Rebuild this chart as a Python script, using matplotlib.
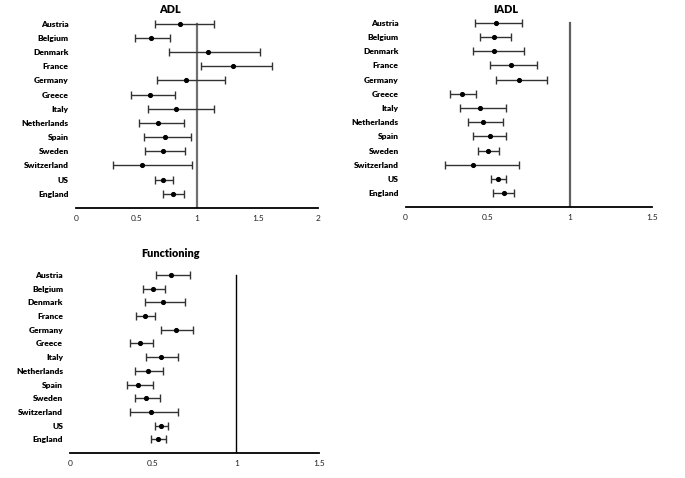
import numpy as np
import matplotlib
matplotlib.use("Agg")
import matplotlib.pyplot as plt

plt.rcParams['font.family'] = ['Lato', 'DejaVu Sans']

countries = ['Austria', 'Belgium', 'Denmark', 'France', 'Germany', 'Greece', 'Italy',
             'Netherlands', 'Spain', 'Sweden', 'Switzerland', 'US', 'England']

# point estimate, lower and upper bound per country
adl = [0.86, 0.62, 1.09, 1.30, 0.91, 0.61, 0.83, 0.68, 0.74, 0.72, 0.55, 0.72, 0.80]
adl_lo = [0.65, 0.49, 0.77, 1.03, 0.67, 0.46, 0.60, 0.52, 0.56, 0.57, 0.31, 0.65, 0.72]
adl_hi = [1.14, 0.78, 1.52, 1.62, 1.23, 0.82, 1.14, 0.89, 0.95, 0.90, 0.96, 0.80, 0.89]

iadl = [0.55, 0.54, 0.54, 0.64, 0.69, 0.34, 0.45, 0.47, 0.51, 0.50, 0.41, 0.56, 0.60]
iadl_lo = [0.42, 0.45, 0.41, 0.51, 0.55, 0.27, 0.33, 0.38, 0.41, 0.44, 0.24, 0.52, 0.53]
iadl_hi = [0.71, 0.64, 0.72, 0.80, 0.86, 0.43, 0.61, 0.59, 0.61, 0.57, 0.69, 0.61, 0.66]

func = [0.61, 0.50, 0.56, 0.45, 0.64, 0.42, 0.55, 0.47, 0.41, 0.46, 0.49, 0.55, 0.53]
func_lo = [0.52, 0.44, 0.45, 0.40, 0.55, 0.36, 0.46, 0.39, 0.34, 0.39, 0.36, 0.51, 0.49]
func_hi = [0.72, 0.57, 0.69, 0.51, 0.74, 0.50, 0.65, 0.56, 0.50, 0.54, 0.65, 0.59, 0.58]


def forest(ax, vals, lo, hi, xmax, ticks, ticklabels, ref_color, ref_lw):
    vals = np.array(vals)
    y = np.arange(len(countries))[::-1] + 1
    err = [vals - np.array(lo), np.array(hi) - vals]
    ax.errorbar(vals, y, xerr=err, fmt='o', color='black', ms=2.7,
                ecolor='#333333', elinewidth=1.0, capsize=3.2, capthick=1.0)
    ax.plot([1, 1], [0, y.max()], color=ref_color, lw=ref_lw, zorder=0)
    ax.set_xlim(0, xmax)
    ax.set_ylim(0, 13.5)
    ax.set_yticks(y)
    ax.set_yticklabels(countries, fontsize=6.0, fontweight='heavy')
    ax.set_xticks(ticks)
    ax.set_xticklabels(ticklabels, fontsize=6.0, color='#222222')
    ax.tick_params(length=0, pad=5)
    for s in ['left', 'right', 'top']:
        ax.spines[s].set_visible(False)
    ax.spines['bottom'].set_linewidth(1.3)


fig = plt.figure(figsize=(6.85, 4.78), dpi=100)

ax1 = fig.add_axes([0.1105, 0.565, 0.3542, 0.400])
forest(ax1, adl, adl_lo, adl_hi, 2, [0, 0.5, 1, 1.5, 2], ['0', '0.5', '1', '1.5', '2'],
       '#707070', 1.6)

ax2 = fig.add_axes([0.5922, 0.566, 0.3601, 0.401])
forest(ax2, iadl, iadl_lo, iadl_hi, 1.5, [0, 0.5, 1, 1.5], ['0', '0.5', '1', '1.5'],
       '#606060', 1.6)

ax3 = fig.add_axes([0.1022, 0.0523, 0.3640, 0.3866])
forest(ax3, func, func_lo, func_hi, 1.5, [0, 0.5, 1, 1.5], ['0', '0.5', '1', '1.5'],
       'black', 1.0)

fig.text(170 / 685, 1 - 9.5 / 478, 'ADL', ha='center', va='center', fontsize=7.8, fontweight='heavy')
fig.text(505.7 / 685, 1 - 9.7 / 478, 'IADL', ha='center', va='center', fontsize=7.8, fontweight='heavy')
fig.text(170 / 685, 1 - 253.3 / 478, 'Functioning', ha='center', va='center', fontsize=7.8, fontweight='heavy')

fig.savefig('out.png', dpi=100)
